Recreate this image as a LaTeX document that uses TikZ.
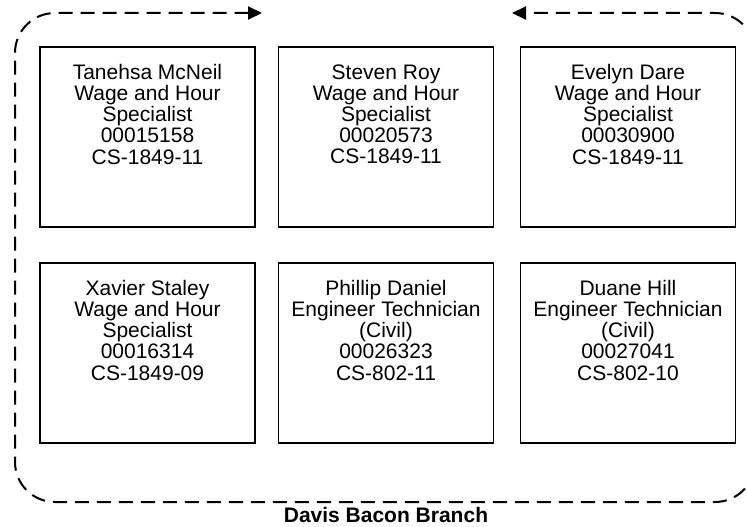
\documentclass[tikz,border=0pt]{standalone}
\usepackage{fontspec}
\setmainfont{Liberation Sans}
\usetikzlibrary{arrows.meta}
\begin{document}
\begin{tikzpicture}[x=1pt,y=-1pt,
  posbox/.style={draw=black,line width=1.6pt,rectangle,minimum width=215pt,minimum height=180pt,inner sep=0pt},
  postext/.style={anchor=north,inner sep=0pt,align=center,font=\fontsize{21}{21.1}\selectfont},
  boundary/.style={line width=2pt,dash pattern=on 14pt off 8pt,rounded corners=40pt,
     {Triangle[length=14pt,width=13pt]}-{Triangle[length=14pt,width=13pt]}},
  titletext/.style={anchor=base,inner sep=0pt,font=\fontsize{21}{24}\selectfont\bfseries}]
\useasboundingbox (0,0) rectangle (747,527);
\fill[white] (0,0) rectangle (747,527);
% boxes
\node[posbox] (b1) at (147.5,137) {};
\node[posbox] (b2) at (386,137) {};
\node[posbox] (b3) at (628,137) {};
\node[posbox] (b4) at (147.5,353) {};
\node[posbox] (b5) at (386,353) {};
\node[posbox] (b6) at (628,353) {};
% texts
\node[postext] (t1) at ([yshift=-18pt]b1.north) {Tanehsa McNeil\\Wage and Hour\\Specialist\\00015158\\CS-1849-11};
\node[postext] (t2) at ([yshift=-18pt]b2.north) {Steven Roy\\Wage and Hour\\Specialist\\00020573\\CS-1849-11};
\node[postext] (t3) at ([yshift=-18pt]b3.north) {Evelyn Dare\\Wage and Hour\\Specialist\\00030900\\CS-1849-11};
\node[postext] (t4) at ([yshift=-18pt]b4.north) {Xavier Staley\\Wage and Hour\\Specialist\\00016314\\CS-1849-09};
\node[postext] (t5) at ([yshift=-18pt]b5.north) {Phillip Daniel\\Engineer Technician\\(Civil)\\00026323\\CS-802-11};
\node[postext] (t6) at ([yshift=-18pt]b6.north) {Duane Hill\\Engineer Technician\\(Civil)\\00027041\\CS-802-10};
% boundary
\coordinate (gl) at (262,13);
\coordinate (gr) at (512,13);
\draw[boundary] (gl) -- (15,13) -- (15,502) -- (755,502) -- (755,13) -- (gr);
\node[titletext] (title) at (386,522) {Davis Bacon Branch};
\end{tikzpicture}
\end{document}
